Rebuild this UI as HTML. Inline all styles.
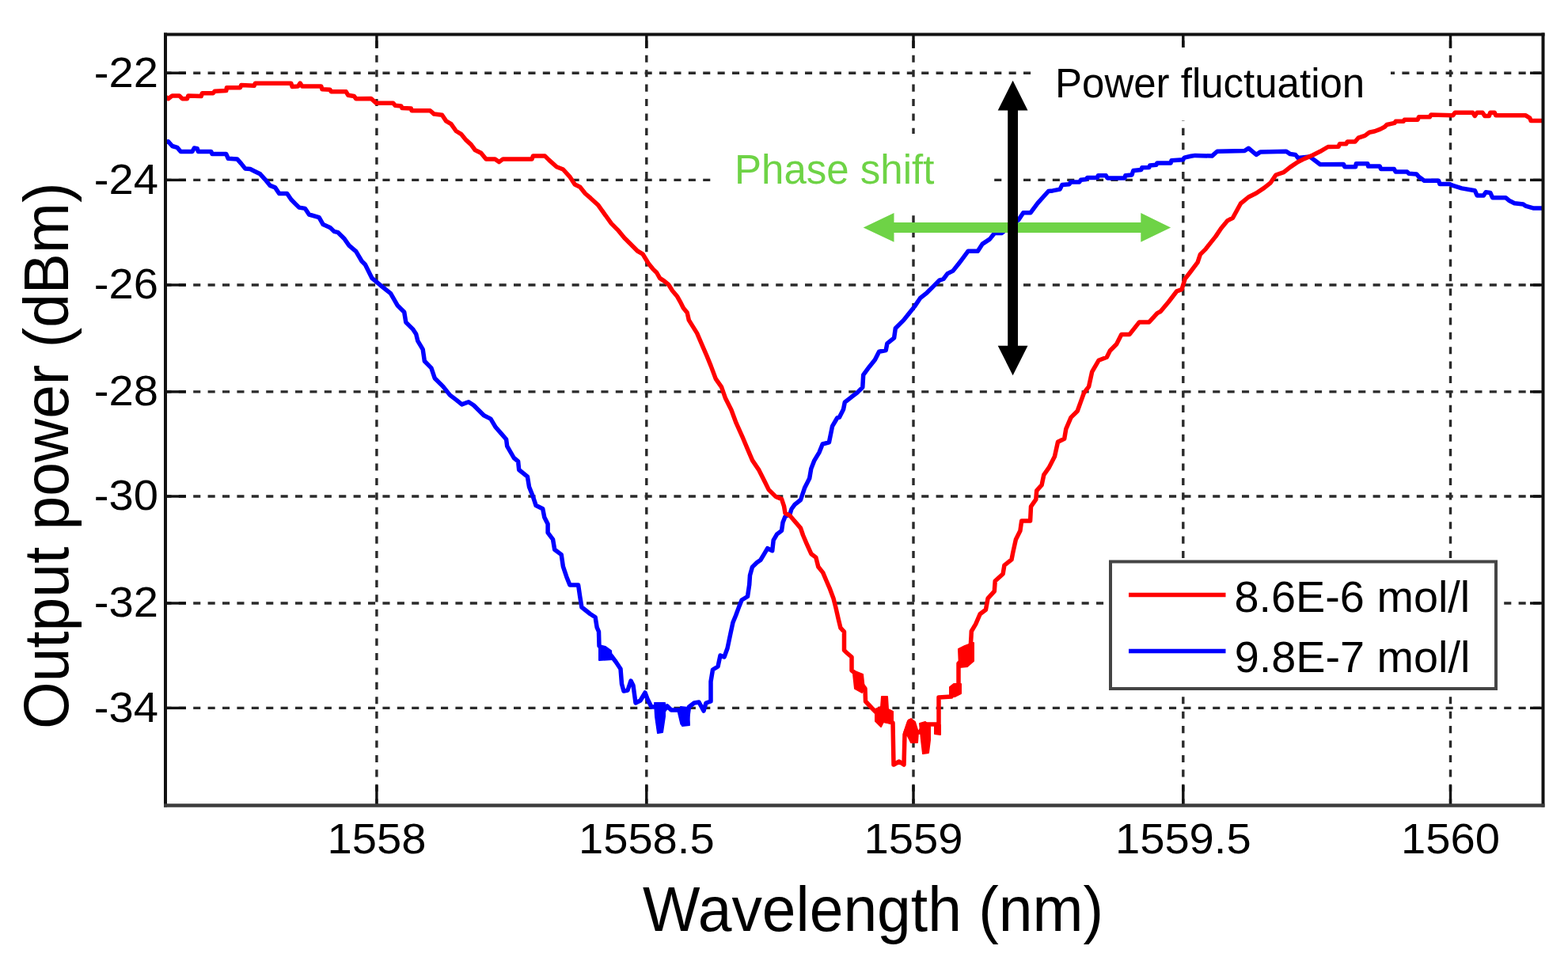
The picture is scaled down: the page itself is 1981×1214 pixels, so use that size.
<!DOCTYPE html><html><head><meta charset="utf-8"><title>Output power vs wavelength</title>
<style>html,body{margin:0;padding:0;background:#fff;overflow:hidden}svg{display:block}text{font-family:"Liberation Sans",Arial,Helvetica,sans-serif}</style></head><body>
<svg width="1981" height="1214" viewBox="0 0 1981 1214">
<rect x="0" y="0" width="1981" height="1214" fill="#fff"/>
<defs><clipPath id="pa"><rect x="209.0" y="43.5" width="1740.5" height="974.0"/></clipPath></defs>
<g stroke="#2a2a2a" stroke-width="3.4" fill="none">
<line x1="209.0" y1="92.2" x2="1949.5" y2="92.2" stroke-dasharray="9.1 9.3" stroke-dashoffset="1.6"/>
<line x1="209.0" y1="227.4" x2="1949.5" y2="227.4" stroke-dasharray="9.1 9.3" stroke-dashoffset="1.6"/>
<line x1="209.0" y1="360.0" x2="1949.5" y2="360.0" stroke-dasharray="9.1 9.3" stroke-dashoffset="1.6"/>
<line x1="209.0" y1="494.9" x2="1949.5" y2="494.9" stroke-dasharray="9.1 9.3" stroke-dashoffset="1.6"/>
<line x1="209.0" y1="627.0" x2="1949.5" y2="627.0" stroke-dasharray="9.1 9.3" stroke-dashoffset="1.6"/>
<line x1="209.0" y1="762.0" x2="1949.5" y2="762.0" stroke-dasharray="9.1 9.3" stroke-dashoffset="1.6"/>
<line x1="209.0" y1="894.4" x2="1949.5" y2="894.4" stroke-dasharray="9.1 9.3" stroke-dashoffset="1.6"/>
<line x1="475.9" y1="43.5" x2="475.9" y2="1017.5" stroke-dasharray="9.1 9.32" stroke-dashoffset="10.6"/>
<line x1="816.8" y1="43.5" x2="816.8" y2="1017.5" stroke-dasharray="9.1 9.32" stroke-dashoffset="10.6"/>
<line x1="1154.0" y1="43.5" x2="1154.0" y2="1017.5" stroke-dasharray="9.1 9.32" stroke-dashoffset="10.6"/>
<line x1="1494.8" y1="43.5" x2="1494.8" y2="1017.5" stroke-dasharray="9.1 9.32" stroke-dashoffset="10.6"/>
<line x1="1832.5" y1="43.5" x2="1832.5" y2="1017.5" stroke-dasharray="9.1 9.32" stroke-dashoffset="10.6"/>
</g>
<g stroke="#111" stroke-width="3.4" fill="none">
<line x1="209.0" y1="92.2" x2="235" y2="92.2"/>
<line x1="1933" y1="92.2" x2="1949.5" y2="92.2"/>
<line x1="209.0" y1="227.4" x2="235" y2="227.4"/>
<line x1="1933" y1="227.4" x2="1949.5" y2="227.4"/>
<line x1="209.0" y1="360.0" x2="235" y2="360.0"/>
<line x1="1933" y1="360.0" x2="1949.5" y2="360.0"/>
<line x1="209.0" y1="494.9" x2="235" y2="494.9"/>
<line x1="1933" y1="494.9" x2="1949.5" y2="494.9"/>
<line x1="209.0" y1="627.0" x2="235" y2="627.0"/>
<line x1="1933" y1="627.0" x2="1949.5" y2="627.0"/>
<line x1="209.0" y1="762.0" x2="235" y2="762.0"/>
<line x1="1933" y1="762.0" x2="1949.5" y2="762.0"/>
<line x1="209.0" y1="894.4" x2="235" y2="894.4"/>
<line x1="1933" y1="894.4" x2="1949.5" y2="894.4"/>
<line x1="475.9" y1="992" x2="475.9" y2="1017.5"/>
<line x1="475.9" y1="43.5" x2="475.9" y2="61"/>
<line x1="816.8" y1="992" x2="816.8" y2="1017.5"/>
<line x1="816.8" y1="43.5" x2="816.8" y2="61"/>
<line x1="1154.0" y1="992" x2="1154.0" y2="1017.5"/>
<line x1="1154.0" y1="43.5" x2="1154.0" y2="61"/>
<line x1="1494.8" y1="992" x2="1494.8" y2="1017.5"/>
<line x1="1494.8" y1="43.5" x2="1494.8" y2="61"/>
<line x1="1832.5" y1="992" x2="1832.5" y2="1017.5"/>
<line x1="1832.5" y1="43.5" x2="1832.5" y2="61"/>
</g>
<g clip-path="url(#pa)" fill="none" stroke-width="5.5" stroke-linejoin="round" stroke-linecap="butt">
<polyline stroke="#0000ff" points="208.8,179.5 212.6,178.8 217.6,184.5 223.9,186.4 228.3,191.5 242.9,191.5 245.4,187.0 249.2,187.7 250.4,191.5 266.8,191.5 268.1,194.6 285.8,194.6 288.3,200.3 299.6,200.9 304.7,206.6 309.7,212.9 316.1,213.5 322.4,216.7 328.7,219.8 335.0,226.8 341.3,234.4 347.6,236.9 352.7,244.5 362.7,244.5 367.8,252.0 372.8,257.1 377.9,262.1 385.5,263.4 390.5,271.0 403.1,274.7 408.2,283.6 417.0,287.4 422.1,292.4 427.1,293.7 434.7,301.2 441.0,310.1 449.8,317.7 457.1,330.0 461.4,334.3 470.0,351.4 482.8,362.1 493.5,370.7 502.1,385.7 510.7,394.2 512.8,407.1 521.4,415.6 525.7,422.1 527.8,430.6 534.2,441.3 536.4,456.3 544.9,464.9 549.2,477.7 559.9,488.4 568.5,499.1 577.0,505.6 583.5,510.9 592.0,507.7 598.5,512.0 611.3,524.8 619.9,529.1 626.3,539.8 632.1,546.4 639.6,555.0 640.7,563.6 649.3,578.5 654.6,582.8 655.7,593.5 666.4,602.1 668.5,614.9 672.8,625.7 677.1,638.5 685.7,642.8 687.8,653.5 692.1,662.1 692.1,672.8 698.5,681.3 700.7,694.2 709.2,700.6 711.4,715.6 715.7,728.4 719.9,739.1 730.6,739.1 732.8,754.1 734.9,767.0 745.6,775.5 752.1,779.8 754.2,792.7 756.5,798.0 757.0,816.0 765.0,822.0 772.0,828.0 778.0,836.0 784.0,845.0 785.5,864.0 788.0,873.0 793.0,872.0 797.0,860.0 800.0,866.0 803.0,888.0 809.0,885.0 815.0,875.0 818.0,883.0 823.0,893.0 830.0,893.0 833.5,922.0 837.0,900.0 843.0,892.0 848.0,897.0 858.0,897.0 862.0,914.0 868.0,911.0 870.5,893.0 877.0,888.0 883.0,887.0 889.0,898.0 892.0,888.0 898.0,886.0 898.0,861.0 900.5,846.0 907.0,842.0 910.0,828.0 915.0,830.0 919.0,819.0 923.0,800.0 926.0,786.2 929.7,777.3 934.1,765.4 937.1,758.0 944.5,753.5 946.7,738.7 947.5,726.8 950.4,716.4 956.4,710.5 960.8,707.5 965.3,700.1 969.7,692.7 975.7,695.7 977.2,682.3 981.6,674.9 987.5,670.4 989.0,660.1 992.0,652.6 997.9,649.7 1000.0,643.0 1004.1,637.4 1011.5,631.5 1016.5,616.6 1022.7,604.2 1024.8,591.9 1028.9,581.6 1035.1,571.3 1039.2,561.0 1047.4,558.9 1051.6,538.3 1057.7,528.0 1060.4,527.2 1065.6,516.9 1067.3,508.2 1076.0,501.3 1082.9,496.1 1089.8,489.2 1090.7,473.6 1098.4,463.2 1105.4,454.6 1110.6,444.2 1119.2,442.5 1120.9,433.8 1129.6,426.9 1131.3,414.8 1141.7,404.4 1148.6,395.7 1155.5,387.1 1162.5,376.7 1171.1,369.8 1179.8,361.1 1186.7,354.2 1191.9,352.5 1197.1,345.6 1204.0,342.1 1210.9,333.5 1214.1,329.3 1223.2,317.2 1235.3,317.2 1241.3,308.1 1250.4,302.1 1256.5,294.5 1265.6,294.5 1276.0,285.0 1286.8,277.8 1292.8,268.8 1301.9,268.8 1311.0,256.6 1324.6,241.5 1330.0,240.9 1339.1,239.1 1341.8,233.6 1350.9,232.7 1352.7,230.0 1363.6,230.0 1365.5,227.3 1372.7,226.4 1373.6,224.5 1386.4,224.5 1387.3,221.8 1397.3,221.8 1399.1,225.0 1420.9,225.0 1421.8,221.8 1430.0,220.9 1431.8,215.5 1441.8,214.5 1442.7,211.8 1451.8,211.4 1452.7,209.1 1460.9,208.2 1461.8,205.9 1479.1,205.9 1480.0,202.7 1494.5,201.8 1496.4,199.1 1504.5,197.3 1510.0,196.4 1531.2,197.1 1537.8,191.3 1572.4,190.5 1577.3,187.2 1582.3,191.3 1587.2,195.4 1592.1,192.1 1625.1,191.3 1630.0,194.6 1636.6,195.4 1639.9,199.5 1654.7,197.9 1661.3,202.8 1667.9,207.8 1697.4,207.4 1698.8,210.8 1712.6,210.8 1713.3,206.7 1727.9,206.7 1728.6,210.1 1743.2,210.1 1744.6,213.6 1761.3,213.6 1763.3,217.1 1777.9,217.1 1780.0,219.2 1789.7,219.9 1792.5,223.3 1799.4,228.2 1817.5,228.2 1818.9,232.4 1831.4,232.4 1835.6,234.4 1846.7,237.9 1863.3,240.7 1866.1,246.9 1874.4,246.9 1877.2,242.8 1882.8,243.5 1885.6,249.7 1902.2,249.7 1906.4,253.2 1913.3,256.7 1924.4,258.1 1927.2,260.1 1936.9,262.9 1951.0,262.9"/>
<polygon fill="#0000ff" stroke="#0000ff" stroke-width="2" points="757.0,815.0 765.0,817.0 772.0,822.0 773.0,833.0 757.0,834.0"/>
<polygon fill="#0000ff" stroke="#0000ff" stroke-width="2" points="827.0,888.0 840.0,888.0 840.0,905.0 837.0,925.0 831.0,926.0 828.0,905.0"/>
<polygon fill="#0000ff" stroke="#0000ff" stroke-width="2" points="860.0,893.0 870.0,894.0 871.0,916.0 862.0,917.0"/>
<polyline stroke="#ff0000" points="208.8,122.1 212.6,124.7 217.6,120.9 226.5,120.9 230.2,124.7 236.5,124.7 237.8,120.9 254.2,121.5 255.5,117.7 269.4,117.7 271.3,115.2 285.8,114.6 286.4,110.8 303.4,110.8 304.7,107.6 321.1,108.3 322.4,105.3 367.8,105.3 369.1,109.5 376.6,108.9 379.2,105.1 381.7,108.9 405.7,108.9 406.9,112.7 417.0,113.3 418.3,115.8 437.2,115.8 439.7,120.2 447.3,121.5 449.8,124.7 468.9,124.5 475.2,130.2 496.7,130.2 499.2,133.3 506.8,134.0 508.0,136.5 519.4,137.1 520.0,139.7 543.4,139.7 548.4,144.1 558.5,145.3 563.6,152.9 569.9,156.7 576.2,165.5 582.5,169.3 588.8,176.9 595.1,182.6 600.2,189.5 607.7,193.3 614.1,200.9 625.4,200.9 630.5,204.6 635.5,200.9 672.1,200.9 673.4,197.1 688.5,197.1 693.6,202.1 703.2,210.7 711.4,214.0 719.7,223.1 726.2,233.0 732.8,236.2 739.4,244.5 746.0,250.2 755.9,259.3 764.1,270.8 772.4,282.4 780.6,290.6 788.8,300.5 797.1,308.7 805.3,317.0 811.9,320.8 816.8,328.7 819.8,333.6 824.7,339.6 829.7,344.5 833.6,351.4 839.6,355.4 844.5,359.3 849.5,367.3 855.4,374.2 859.3,381.1 863.3,389.0 868.2,395.0 870.3,404.4 880.6,420.9 886.8,435.3 893.0,449.7 898.1,462.1 904.3,478.6 911.5,488.9 916.6,503.3 923.9,517.7 930.0,534.2 938.3,552.7 944.4,567.1 950.6,581.6 958.9,593.9 966.1,608.3 971.2,618.6 980.1,627.4 987.5,630.4 990.5,639.3 992.0,648.2 997.9,651.2 1002.6,656.7 1011.5,667.1 1014.5,676.0 1018.9,686.3 1024.9,699.7 1030.8,704.1 1033.8,716.0 1039.7,723.4 1044.1,733.8 1048.6,744.2 1053.0,756.0 1056.0,767.9 1059.0,781.2 1061.9,793.1 1066.5,798.2 1066.5,821.3 1069.0,824.0 1076.0,830.0 1076.0,847.0 1080.0,850.0 1087.0,862.0 1093.0,870.0 1093.5,886.0 1101.0,894.0 1108.0,901.0 1117.0,910.0 1128.0,913.0 1129.0,966.0 1136.0,962.0 1142.0,966.0 1143.0,928.0 1149.0,911.0 1153.0,925.0 1162.0,925.0 1168.0,915.0 1186.0,915.0 1186.0,881.0 1202.0,880.0 1207.0,872.0 1211.0,868.0 1211.0,838.0 1220.0,830.0 1226.0,820.0 1227.0,804.0 1227.3,797.5 1232.7,788.4 1238.1,775.8 1245.4,770.3 1248.1,755.8 1256.3,746.8 1257.2,734.1 1267.1,725.0 1268.9,714.1 1278.0,706.9 1279.8,697.8 1283.4,681.5 1288.9,670.6 1290.7,657.9 1301.6,657.9 1302.5,639.8 1308.8,630.8 1309.7,619.9 1316.1,612.6 1318.8,599.9 1325.1,590.9 1332.4,576.8 1336.5,558.3 1344.7,554.2 1346.8,541.8 1353.0,527.4 1361.2,519.2 1369.4,496.5 1375.6,488.3 1379.7,469.7 1388.0,455.3 1398.3,451.2 1402.4,443.0 1410.6,434.7 1416.8,422.4 1427.1,422.4 1439.4,406.9 1451.8,406.9 1462.1,395.6 1466.2,393.5 1476.5,381.2 1486.8,367.8 1493.0,365.7 1497.1,352.4 1503.2,344.5 1513.1,331.3 1516.4,321.4 1523.0,314.9 1529.5,306.6 1536.1,298.4 1542.7,288.5 1551.0,278.6 1557.5,275.3 1567.4,257.2 1577.3,249.0 1587.2,244.0 1597.1,237.4 1605.3,230.8 1611.9,221.0 1621.8,217.7 1630.0,211.1 1639.9,204.5 1648.2,200.4 1658.0,196.2 1667.9,191.3 1677.8,185.5 1691.1,185.3 1692.5,181.8 1700.8,181.8 1702.2,179.0 1712.0,179.0 1716.1,174.2 1724.4,171.4 1730.0,167.2 1737.0,165.8 1743.9,163.1 1749.4,160.3 1752.2,157.5 1761.9,155.4 1763.3,153.3 1773.1,153.3 1774.4,151.3 1791.1,151.3 1792.5,147.8 1806.4,147.8 1807.8,145.0 1835.6,145.7 1838.3,142.2 1860.6,142.2 1863.3,146.4 1866.1,142.2 1873.0,142.2 1875.8,146.4 1881.4,146.4 1882.8,142.2 1888.3,142.2 1889.7,145.7 1927.2,145.7 1932.8,149.2 1934.2,152.6 1951.0,152.6"/>
<polygon fill="#ff0000" stroke="#ff0000" stroke-width="2" points="1077.5,847.0 1090.0,852.0 1092.0,871.0 1089.0,875.0 1080.0,870.0"/>
<polygon fill="#ff0000" stroke="#ff0000" stroke-width="2" points="1106.0,896.0 1113.0,893.0 1114.0,880.0 1121.0,880.0 1122.0,896.0 1128.0,899.0 1128.0,914.0 1116.0,912.0 1113.0,918.0 1106.0,911.0"/>
<polygon fill="#ff0000" stroke="#ff0000" stroke-width="2" points="1142.0,926.0 1147.0,911.0 1151.0,908.0 1156.0,912.0 1160.0,925.0 1159.0,938.0 1151.0,938.0 1147.0,930.0"/>
<polygon fill="#ff0000" stroke="#ff0000" stroke-width="2" points="1162.0,914.0 1169.0,912.0 1175.0,918.0 1175.0,935.0 1173.0,951.0 1166.0,952.0 1164.0,935.0"/>
<polygon fill="#ff0000" stroke="#ff0000" stroke-width="2" points="1181.0,916.0 1188.0,916.0 1188.0,928.0 1181.0,927.0"/>
<polygon fill="#ff0000" stroke="#ff0000" stroke-width="2" points="1200.0,868.0 1205.0,864.0 1214.0,864.0 1214.0,876.0 1206.0,880.0 1200.0,879.0"/>
<polygon fill="#ff0000" stroke="#ff0000" stroke-width="2" points="1211.0,820.0 1219.0,816.0 1230.0,812.0 1230.0,835.0 1222.0,842.0 1212.0,843.0"/>
</g>
<g fill="none">
<line x1="209.0" y1="41.5" x2="209.0" y2="1019.5" stroke="#111" stroke-width="4"/>
<line x1="1949.5" y1="41.5" x2="1949.5" y2="1019.5" stroke="#111" stroke-width="4"/>
<line x1="207" y1="43.5" x2="1951.5" y2="43.5" stroke="#111" stroke-width="4"/>
<line x1="207" y1="1017.5" x2="1951.5" y2="1017.5" stroke="#3c3c3c" stroke-width="4.6"/>
</g>
<text transform="translate(475.9,1077.5) scale(1.05,1)" text-anchor="middle" font-size="53.5" fill="#000">1558</text>
<text transform="translate(816.8,1077.5) scale(1.05,1)" text-anchor="middle" font-size="53.5" fill="#000">1558.5</text>
<text transform="translate(1154.0,1077.5) scale(1.05,1)" text-anchor="middle" font-size="53.5" fill="#000">1559</text>
<text transform="translate(1494.8,1077.5) scale(1.05,1)" text-anchor="middle" font-size="53.5" fill="#000">1559.5</text>
<text transform="translate(1832.5,1077.5) scale(1.05,1)" text-anchor="middle" font-size="53.5" fill="#000">1560</text>
<text transform="translate(200,109.5) scale(1.05,1)" text-anchor="end" font-size="53.5" fill="#000">-22</text>
<text transform="translate(200,244.7) scale(1.05,1)" text-anchor="end" font-size="53.5" fill="#000">-24</text>
<text transform="translate(200,377.3) scale(1.05,1)" text-anchor="end" font-size="53.5" fill="#000">-26</text>
<text transform="translate(200,512.2) scale(1.05,1)" text-anchor="end" font-size="53.5" fill="#000">-28</text>
<text transform="translate(200,644.3) scale(1.05,1)" text-anchor="end" font-size="53.5" fill="#000">-30</text>
<text transform="translate(200,779.3) scale(1.05,1)" text-anchor="end" font-size="53.5" fill="#000">-32</text>
<text transform="translate(200,911.7) scale(1.05,1)" text-anchor="end" font-size="53.5" fill="#000">-34</text>
<text transform="translate(812,1175.8) scale(0.974,1)" font-size="78.9" fill="#000">Wavelength (nm)</text>
<text transform="translate(85.7,921) rotate(-90) scale(0.972,1)" font-size="78.9" fill="#000">Output power (dBm)</text>
<rect x="900" y="169" width="352" height="102" fill="#fff"/>
<rect x="1303" y="60" width="454" height="92" fill="#fff"/>
<text x="1333" y="122.6" font-size="51" fill="#000">Power fluctuation</text>
<text x="928" y="232" font-size="51" fill="#6ed346">Phase shift</text>
<polygon fill="#6ed346" points="1090.7,287.4 1129.5,269.1 1129.5,280.9 1441.3,280.9 1441.3,269.1 1479.1,287.4 1441.3,305.7 1441.3,293.9 1129.5,293.9 1129.5,305.7"/>
<polygon fill="#000" points="1279.6,101.7 1298.5,139.5 1286.0,139.5 1286.0,436.7 1298.5,436.7 1279.6,474.2 1260.7,436.7 1273.2,436.7 1273.2,139.5 1260.7,139.5"/>
<rect x="1403" y="709.5" width="487" height="160.5" fill="#fff" stroke="#444" stroke-width="4"/>
<line x1="1426" y1="751.4" x2="1548.5" y2="751.4" stroke="#ff0000" stroke-width="5.5"/>
<line x1="1426" y1="822.4" x2="1548.5" y2="822.4" stroke="#0000ff" stroke-width="5.5"/>
<text x="1559.5" y="772.5" font-size="55.8" fill="#000">8.6E-6 mol/l</text>
<text x="1559.7" y="849.3" font-size="55.8" fill="#000">9.8E-7 mol/l</text>
</svg></body></html>
